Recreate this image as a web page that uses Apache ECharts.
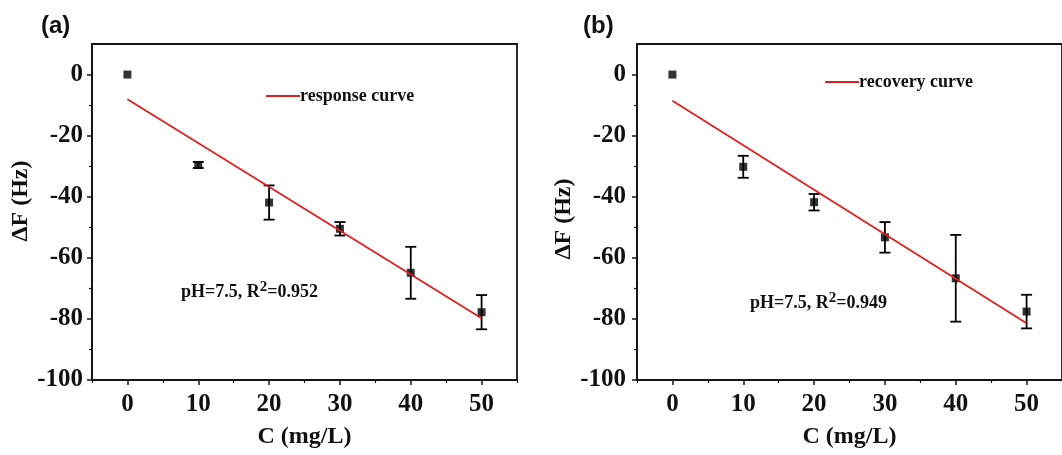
<!DOCTYPE html>
<html>
<head>
<meta charset="utf-8">
<script src="https://cdn.jsdelivr.net/npm/echarts@6/dist/echarts.min.js"></script>
<style>
  html, body { margin: 0; padding: 0; background: #fff; }
  #main { width: 1062px; height: 455px; }
</style>
</head>
<body>
<div id="main"></div>
<script>
// concentration (mg/L)
var xValues = [0, 10, 20, 30, 40, 50];
// panel (a) response
var respMean = [0, -29.6, -41.9, -50.5, -64.9, -77.8];
var respErr = [0, 1.0, 5.6, 2.2, 8.5, 5.6];
var respFitX = [0, 50];
var respFitY = [-8.1, -79.8];
// panel (b) recovery
var recMean = [0, -30.2, -41.8, -53.3, -66.7, -77.6];
var recErr = [0, 3.6, 2.7, 5.0, 14.2, 5.5];
var recFitX = [0, 50];
var recFitY = [-8.6, -81.4];
// ticks
var xTicks = [0, 10, 20, 30, 40, 50];
var xMinorTicks = [-5, 5, 15, 25, 35, 45, 55];
var yTicks = [-100, -80, -60, -40, -20, 0];
var yMinorTicks = [-90, -70, -50, -30, -10];

var SERIF = "'Liberation Serif', 'Times New Roman', serif";
var SANS = "'Liberation Sans', Arial, sans-serif";
var AXIS_COLOR = '#151515';

function errRender(params, api) {
  var x = api.value(0), lo = api.value(1), hi = api.value(2);
  if (hi - lo <= 0) return;
  var p1 = api.coord([x, hi]);
  var p2 = api.coord([x, lo]);
  var hw = 5.5;
  var st = { stroke: '#000', lineWidth: 1.8 };
  return {
    type: 'group',
    children: [
      { type: 'line', shape: { x1: p1[0], y1: p1[1], x2: p2[0], y2: p2[1] }, style: st },
      { type: 'line', shape: { x1: p1[0] - hw, y1: p1[1], x2: p1[0] + hw, y2: p1[1] }, style: st },
      { type: 'line', shape: { x1: p2[0] - hw, y1: p2[1], x2: p2[0] + hw, y2: p2[1] }, style: st }
    ]
  };
}

function mainX(grid, labelMargin) {
  return {
    type: 'value', gridIndex: grid, min: -5, max: 55, position: 'bottom',
    name: 'C (mg/L)', nameLocation: 'middle', nameGap: 45,
    nameTextStyle: { fontFamily: SERIF, fontWeight: 'bold', fontSize: 24, color: '#111' },
    axisLine: { show: true, onZero: false, lineStyle: { color: AXIS_COLOR, width: 1.8 } },
    axisTick: { show: true, inside: false, length: 5, customValues: xTicks, lineStyle: { color: AXIS_COLOR, width: 1.5 } },
    axisLabel: { customValues: xTicks, margin: labelMargin, fontFamily: SERIF, fontWeight: 'bold', fontSize: 25, color: '#111' },
    splitLine: { show: false }
  };
}
function minorX(grid) {
  return {
    type: 'value', gridIndex: grid, min: -5, max: 55, position: 'bottom',
    axisLine: { show: false, onZero: false },
    axisTick: { show: true, inside: false, length: 3, customValues: xMinorTicks, lineStyle: { color: AXIS_COLOR, width: 1.2 } },
    axisLabel: { show: false },
    splitLine: { show: false }
  };
}
function mainY(grid, labelMargin, namePad) {
  return {
    type: 'value', gridIndex: grid, min: -100, max: 10, position: 'left',
    name: '\u0394F (Hz)', nameLocation: 'middle', nameGap: 57,
    nameTextStyle: { fontFamily: SERIF, fontWeight: 'bold', fontSize: 24, color: '#111', padding: namePad },
    axisLine: { show: true, onZero: false, lineStyle: { color: AXIS_COLOR, width: 1.8 } },
    axisTick: { show: true, inside: false, length: 5, customValues: yTicks, lineStyle: { color: AXIS_COLOR, width: 1.5 } },
    axisLabel: { customValues: yTicks, margin: labelMargin, fontFamily: SERIF, fontWeight: 'bold', fontSize: 25, color: '#111' },
    splitLine: { show: false }
  };
}
function minorY(grid) {
  return {
    type: 'value', gridIndex: grid, min: -100, max: 10, position: 'left',
    axisLine: { show: false, onZero: false },
    axisTick: { show: true, inside: false, length: 3, customValues: yMinorTicks, lineStyle: { color: AXIS_COLOR, width: 1.2 } },
    axisLabel: { show: false },
    splitLine: { show: false }
  };
}

function pairs(xs, ys) { return xs.map(function (x, i) { return [x, ys[i]]; }); }
function errData(xs, m, e) { return xs.map(function (x, i) { return [x, m[i] - e[i], m[i] + e[i]]; }); }

var chart = echarts.init(document.getElementById('main'), null, { renderer: 'canvas' });

var richNote = {
  n: { fontFamily: SERIF, fontWeight: 'bold', fontSize: 18, color: '#111' },
  s: { fontFamily: SERIF, fontWeight: 'bold', fontSize: 15, color: '#111', padding: [0, 0, 10, 0] }
};

chart.setOption({
  backgroundColor: '#fff',
  animation: false,
  title: [
    { text: '(a)', left: 41, top: 14, padding: 0,
      textStyle: { fontFamily: SANS, fontWeight: 'bold', fontSize: 24, color: '#111' } },
    { text: '(b)', left: 583, top: 14, padding: 0,
      textStyle: { fontFamily: SANS, fontWeight: 'bold', fontSize: 24, color: '#111' } },
    { text: '{n|pH=7.5, R}{s|2}{n|=0.952}', left: 181, top: 280, padding: 0,
      textStyle: { rich: richNote } },
    { text: '{n|pH=7.5, R}{s|2}{n|=0.949}', left: 750, top: 291, padding: 0,
      textStyle: { rich: richNote } }
  ],
  legend: [
    { data: [{ name: 'response curve', icon: 'rect' }], left: 266, top: 87, padding: 0,
      itemWidth: 34, itemHeight: 2, itemGap: 0,
      textStyle: { fontFamily: SERIF, fontWeight: 'bold', fontSize: 18, color: '#111', padding: [0, 0, 0, -5] } },
    { data: [{ name: 'recovery curve', icon: 'rect' }], left: 825, top: 73, padding: 0,
      itemWidth: 34, itemHeight: 2, itemGap: 0,
      textStyle: { fontFamily: SERIF, fontWeight: 'bold', fontSize: 18, color: '#111', padding: [0, 0, 0, -5] } }
  ],
  grid: [
    { left: 92, top: 44, width: 425, height: 336, show: true, borderColor: AXIS_COLOR, borderWidth: 1.8, backgroundColor: 'transparent' },
    { left: 637, top: 44, width: 431, height: 336, show: true, borderColor: AXIS_COLOR, borderWidth: 1.8, backgroundColor: 'transparent' }
  ],
  xAxis: [mainX(0, 12), minorX(0), mainX(1, 12), minorX(1)],
  yAxis: [mainY(0, 9, [0, 0, 0, 22]), minorY(0), mainY(1, 11, [0, 14, 0, 0]), minorY(1)],
  series: [
    { type: 'custom', name: 'err a', xAxisIndex: 0, yAxisIndex: 0, renderItem: errRender,
      encode: { x: 0, y: [1, 2] }, data: errData(xValues, respMean, respErr), z: 2, silent: true },
    { type: 'scatter', name: 'data a', xAxisIndex: 0, yAxisIndex: 0, symbol: 'rect', symbolSize: 8,
      itemStyle: { color: '#000' }, data: pairs(xValues, respMean), z: 3 },
    { type: 'line', name: 'response curve', xAxisIndex: 0, yAxisIndex: 0, symbol: 'none',
      lineStyle: { color: '#e0201c', width: 1.8 }, itemStyle: { color: '#e0201c' },
      data: pairs(respFitX, respFitY), z: 4 },

    { type: 'custom', name: 'err b', xAxisIndex: 2, yAxisIndex: 2, renderItem: errRender,
      encode: { x: 0, y: [1, 2] }, data: errData(xValues, recMean, recErr), z: 2, silent: true },
    { type: 'scatter', name: 'data b', xAxisIndex: 2, yAxisIndex: 2, symbol: 'rect', symbolSize: 8,
      itemStyle: { color: '#000' }, data: pairs(xValues, recMean), z: 3 },
    { type: 'line', name: 'recovery curve', xAxisIndex: 2, yAxisIndex: 2, symbol: 'none',
      lineStyle: { color: '#e0201c', width: 1.8 }, itemStyle: { color: '#e0201c' },
      data: pairs(recFitX, recFitY), z: 4 }
  ]
});
</script>
</body>
</html>
